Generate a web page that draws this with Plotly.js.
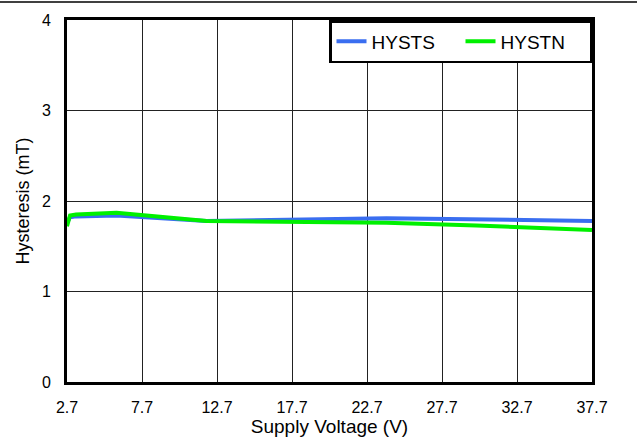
<!DOCTYPE html>
<html>
<head>
<meta charset="utf-8">
<script src="https://cdn.plot.ly/plotly-3.0.1.min.js"></script>
<style>html,body{margin:0;padding:0;background:#fff;}#chart{width:637px;height:440px;}</style>
</head>
<body>
<div id="chart"></div>
<script>
const voltsS = [2.7, 2.9, 3.3, 6, 12, 24, 37.7];
const hystS  = [1.76, 1.82, 1.83, 1.84, 1.78, 1.81, 1.78];
const voltsN = [2.7, 2.9, 3.3, 6, 12, 24, 30, 37.7];
const hystN  = [1.72, 1.84, 1.85, 1.87, 1.78, 1.76, 1.73, 1.68];
const xTicks = [2.7, 7.7, 12.7, 17.7, 22.7, 27.7, 32.7, 37.7];
const yTicks = [0, 1, 2, 3, 4];

const font = 'Liberation Sans, Arial, sans-serif';
const traces = [
  {x: voltsS, y: hystS, name: 'HYSTS', mode: 'lines', line: {color: '#3a6ef0', width: 4}},
  {x: voltsN, y: hystN, name: 'HYSTN', mode: 'lines', line: {color: '#00f000', width: 4}}
];
const layout = {
  width: 637, height: 440,
  margin: {l: 67, r: 45, t: 20, b: 58},
  paper_bgcolor: '#fff', plot_bgcolor: '#fff',
  font: {family: font, size: 16, color: '#000'},
  showlegend: true,
  legend: {orientation: 'h', x: 1, xanchor: 'right', y: 1, yanchor: 'top',
           bgcolor: '#fff', bordercolor: '#000', borderwidth: 2.5,
           entrywidth: 84, entrywidthmode: 'pixels',
           font: {family: font, size: 19, color: '#000'}},
  xaxis: {range: [2.7, 37.7], tickvals: xTicks, ticktext: xTicks.map(v => v.toFixed(1)),
          showgrid: true, gridcolor: '#222', gridwidth: 1, zeroline: false,
          showline: true, mirror: true, linecolor: '#000', linewidth: 3,
          ticks: 'outside', ticklen: 9, tickcolor: 'rgba(0,0,0,0)',
          tickfont: {size: 16}, title: {text: 'Supply Voltage (V)', font: {size: 19}, standoff: 0}},
  yaxis: {range: [0, 4], tickvals: yTicks, showgrid: true, gridcolor: '#222', gridwidth: 1, zeroline: false,
          showline: true, mirror: true, linecolor: '#000', linewidth: 3,
          ticks: 'outside', ticklen: 10, tickcolor: 'rgba(0,0,0,0)',
          tickfont: {size: 16}, title: {text: 'Hysteresis (mT)', font: {size: 18}, standoff: 8}},
  shapes: [{type: 'line', xref: 'paper', yref: 'paper', x0: -67/525, x1: 570/525,
            y0: 1 + 18/362, y1: 1 + 18/362, line: {color: '#000', width: 1.5}}]
};
Plotly.newPlot('chart', traces, layout, {displayModeBar: false, staticPlot: true});
</script>
</body>
</html>
